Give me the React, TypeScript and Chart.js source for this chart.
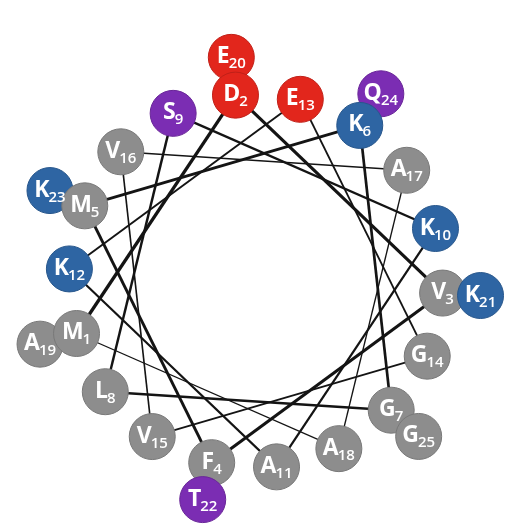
import React, { useRef, useEffect } from "react";
import { Chart, registerables } from "chart.js";

Chart.register(...registerables);

// peptide sequence, residue 1..25
const sequence = ["M", "D", "V", "F", "M", "K", "G", "L", "S", "K", "A", "K", "E", "G", "V", "V", "A", "A", "A", "E", "K", "T", "K", "Q", "G"];
// residue numbers in the order they are painted (later = on top)
const drawOrder = [19, 20, 23, 24, 1, 2, 3, 4, 5, 6, 7, 8, 9, 10, 11, 12, 13, 14, 15, 16, 17, 18, 21, 22, 25];

const typeColors: Record<string, string> = {
  K: "#2e65a3",
  D: "#e2261c",
  E: "#e2261c",
  S: "#7b2db3",
  T: "#7b2db3",
  Q: "#7b2db3",
};
const grey = "#8d8d8d";

const START_DEG = 163.7; // screen angle of residue 1
const STEP_DEG = 100; // alpha helix: 100 degrees per residue
const INNER_R = 187;
const OUTER_R = 225;

const position = (i: number) => {
  const a = ((START_DEG + STEP_DEG * i) * Math.PI) / 180;
  const r = i < 18 ? INNER_R : OUTER_R;
  return { x: r * Math.cos(a), y: -r * Math.sin(a) };
};

const darker = (hex: string) => {
  const n = parseInt(hex.slice(1), 16);
  const f = (v: number) => Math.round(v * 0.85);
  return `rgb(${f((n >> 16) & 255)},${f((n >> 8) & 255)},${f(n & 255)})`;
};

const labelPlugin = {
  id: "residueLabels",
  afterDatasetsDraw(chart: any) {
    const ds = chart.data.datasets[0];
    const meta = chart.getDatasetMeta(0);
    const ctx = chart.ctx;
    ctx.save();
    ctx.fillStyle = "#ffffff";
    ctx.textBaseline = "alphabetic";
    ctx.textAlign = "left";
    meta.data.forEach((pt: any, j: number) => {
      const d = ds.data[j];
      const big = "bold 23px 'Open Sans'";
      const small = "600 15px 'Open Sans'";
      ctx.font = big;
      const wl = ctx.measureText(d.letter).width - 1;
      ctx.font = small;
      const ws = ctx.measureText(String(d.num)).width;
      const x0 = pt.x - (wl + ws) / 2;
      ctx.font = big;
      ctx.fillText(d.letter, x0, pt.y + 6);
      ctx.font = small;
      ctx.fillText(String(d.num), x0 + wl, pt.y + 11);
    });
    ctx.restore();
  },
};

const HelicalWheel: React.FC = () => {
  const chartRef = useRef<HTMLCanvasElement | null>(null);
  const chartInstanceRef = useRef<Chart | null>(null);

  useEffect(() => {
    if (!chartRef.current) return;
    const ctx = chartRef.current.getContext("2d");
    if (!ctx) return;

    const residues = drawOrder.map((num) => {
      const letter = sequence[num - 1];
      const p = position(num - 1);
      return { x: p.x, y: p.y, letter, num, color: typeColors[letter] || grey };
    });

    // connecting lines 1-2-...-18-1, thinning as the helix goes on
    const lines = [];
    for (let i = 0; i < 18; i++) {
      const a = position(i);
      const b = position((i + 1) % 18);
      lines.push({
        type: "line" as const,
        data: [a, b],
        borderColor: "#141414",
        borderWidth: 3.3 - i * 0.12,
        pointRadius: 0,
        showLine: true,
        order: 2,
      });
    }

    chartInstanceRef.current = new Chart(ctx, {
      type: "scatter",
      data: {
        datasets: [
          {
            data: residues as any,
            pointRadius: 23,
            pointHoverRadius: 23,
            backgroundColor: residues.map((r) => r.color),
            borderColor: residues.map((r) => darker(r.color)),
            borderWidth: 1,
            order: 1,
          },
          ...(lines as any),
        ],
      },
      options: {
        animation: false,
        responsive: true,
        maintainAspectRatio: false,
        layout: { padding: 0, autoPadding: false },
        events: [],
        scales: {
          x: { type: "linear", min: -256, max: 257, display: false },
          y: { type: "linear", min: -246, max: 281, display: false },
        },
        plugins: {
          legend: { display: false },
          tooltip: { enabled: false },
        },
      },
      plugins: [labelPlugin],
    });

    return () => {
      if (chartInstanceRef.current) {
        chartInstanceRef.current.destroy();
      }
    };
  }, []);

  return (
    <div style={{ position: "fixed", left: 0, top: 0, width: 513, height: 527, background: "#fff" }}>
      <canvas ref={chartRef}></canvas>
    </div>
  );
};

export default function App() {
  return <HelicalWheel />;
}
